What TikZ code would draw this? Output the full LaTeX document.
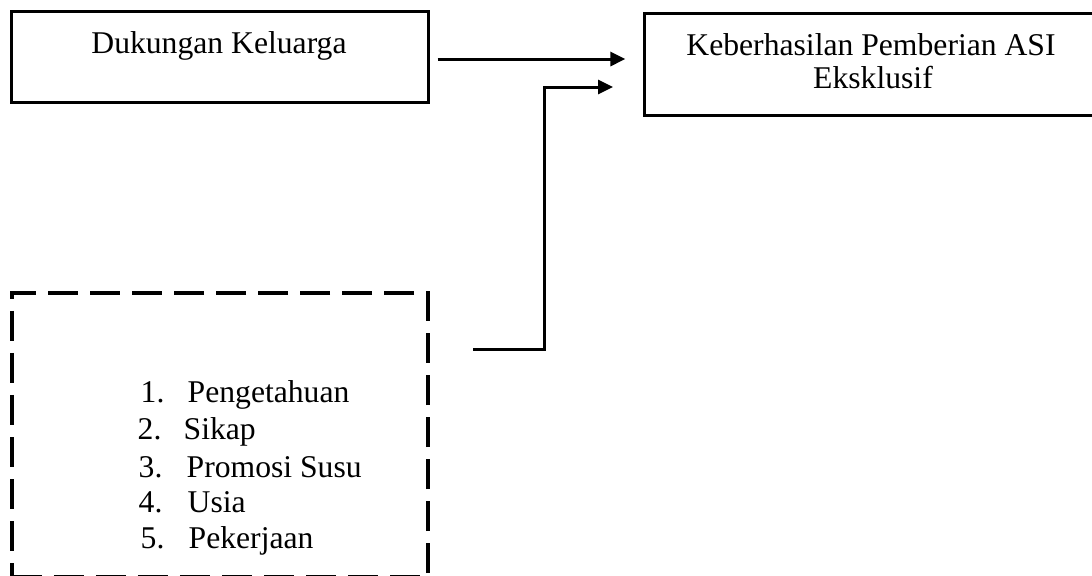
\documentclass[tikz,border=0pt]{standalone}
\usepackage{fontspec}
\setmainfont{Liberation Serif}
\usetikzlibrary{arrows.meta}

\tikzset{
  box/.style={draw, line width=0.85pt, minimum width=4.16cm, minimum height=0.9cm, inner sep=0pt},
  dbox/.style={draw, line width=1.1pt, dash pattern=on 0.3cm off 0.12cm, minimum width=4.16cm, minimum height=2.84cm, inner sep=0pt},
  txt/.style={anchor=base, font=\fontsize{9pt}{10.4pt}\selectfont, inner sep=0pt},
  conn/.style={line width=0.85pt, -{Triangle[length=0.15cm,width=0.14cm]}}
}

\begin{document}
\begin{tikzpicture}[x=0.01cm,y=-0.01cm]
  \useasboundingbox (0,0) rectangle (1092,575);
  % kotak variabel
  \node[box] (dk) at (220,57) {};
  \node[txt] (dkt) at (219,53) {Dukungan Keluarga};

  \node[box, minimum width=4.54cm, minimum height=1.01cm] (ks) at (872,64.5) {};
  \node[txt] (ks1) at (871,55) {Keberhasilan Pemberian ASI};
  \node[txt] (ks2) at (873,88) {Eksklusif};

  % faktor lain (garis putus-putus)
  \node[dbox] (fl) at (220,435) {};
  \foreach \n/\t/\a/\b/\y in {1/Pengetahuan/140/187/402, 2/Sikap/137/183/439,
    3/Promosi Susu/138/186/477, 4/Usia/138/187/512, 5/Pekerjaan/140/188/548}
  {
    \node[txt, anchor=base west] (n\n) at (\a,\y) {\n.};
    \node[txt, anchor=base west] (t\n) at (\b,\y) {\t};
  }

  % panah
  \draw[conn, shorten <=0.08cm, shorten >=0.18cm]
    ([yshift=-0.02cm]dk.east) -- ([yshift=-0.02cm]dk.east -| ks.west);
  \coordinate (fs) at (473,349);
  \coordinate (fe) at (613,87);
  \draw[conn] (fs) -- ++(71,0) |- (fe);
\end{tikzpicture}
\end{document}
